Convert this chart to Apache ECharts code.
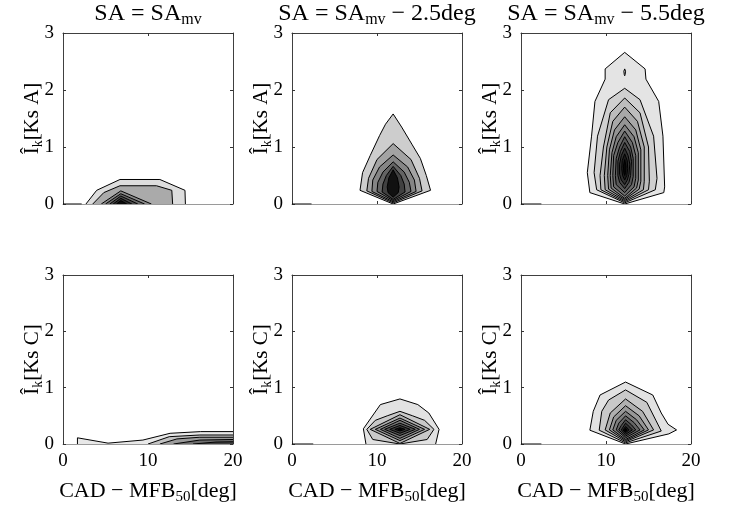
<!DOCTYPE html>
<html>
<head>
<meta charset="utf-8">
<script src="https://cdn.jsdelivr.net/npm/echarts@6/dist/echarts.min.js"></script>
<style>
  html, body { margin: 0; padding: 0; background: #fff; }
  #chart { width: 734px; height: 506px; }
</style>
</head>
<body>
<div id="chart"></div>
<script>
// Filled contour levels of the knock intensity density, outermost level first.
// Every level is a closed outline of [CAD - MFB50 (deg), I_k] vertices.

// Knock sensor A, SA = SA_mv
const A1_levels = [
  [[2.7, 0], [3.96, 0.24], [6.7, 0.43], [11.4, 0.43], [14.35, 0.24], [14.4, 0]],
  [[3.5, 0], [4.8, 0.2], [6.7, 0.32], [11.0, 0.32], [12.8, 0.24], [12.9, 0]],
  [[4.5, 0], [6.8, 0.23], [10.4, 0]],
  [[5.0, 0], [6.8, 0.18], [9.6, 0]],
  [[5.5, 0], [6.8, 0.14], [8.8, 0]],
  [[5.9, 0], [6.8, 0.10], [8.1, 0]],
  [[6.3, 0], [6.8, 0.06], [7.5, 0]]
];
const A1_colors = ['#dddddd', '#aaaaaa', '#8a8a8a', '#6a6a6a', '#4a4a4a', '#2a2a2a', '#0a0a0a'];
const A1_base = [[0, 0], [2.2, 0]];

// Knock sensor A, SA = SA_mv - 2.5deg
const A2_levels = [
  [[11.9, 1.58], [12.9, 1.35], [14.1, 1.05], [15.1, 0.8], [15.8, 0.5], [16.3, 0.24], [11.9, 0.0],
   [8.0, 0.24], [8.3, 0.55], [9.2, 0.85], [10.3, 1.2], [11.0, 1.4]],
  [[11.9, 1.06], [14.0, 0.78], [15.0, 0.45], [15.3, 0.23], [11.9, 0.02], [8.8, 0.23], [9.0, 0.45], [10.0, 0.78]],
  [[11.9, 0.86], [13.6, 0.65], [14.4, 0.42], [14.6, 0.22], [11.9, 0.04], [9.4, 0.22], [9.5, 0.42], [10.3, 0.65]],
  [[11.9, 0.74], [13.2, 0.56], [13.8, 0.38], [14.0, 0.22], [11.9, 0.06], [10.0, 0.22], [10.1, 0.38], [10.7, 0.56]],
  [[11.9, 0.66], [12.8, 0.5], [13.2, 0.35], [13.3, 0.21], [11.9, 0.08], [10.6, 0.21], [10.7, 0.35], [11.1, 0.5]],
  [[11.9, 0.6], [12.4, 0.46], [12.6, 0.3], [12.5, 0.2], [11.9, 0.12], [11.3, 0.2], [11.2, 0.3], [11.4, 0.46]]
];
const A2_colors = ['#cdcdcd', '#a3a3a3', '#858585', '#646464', '#414141', '#111111'];
const A2_base = [[0, 0], [2.3, 0]];

// Knock sensor A, SA = SA_mv - 5.5deg
const A3_levels = [
  [[12.2, 2.66], [14.6, 2.37], [14.7, 2.19], [16.2, 1.8], [16.7, 1.19], [16.9, 0.3], [16.8, 0.2], [12.2, 0.0],
   [8.1, 0.2], [7.8, 0.55], [8.3, 1.19], [8.7, 1.8], [9.9, 2.19], [9.9, 2.37]],
  [[12.2, 2.37], [12.3, 2.33], [12.25, 2.27], [12.2, 2.25], [12.15, 2.27], [12.1, 2.33]],
  [[12.2, 2.03], [14.0, 1.83], [15.6, 1.19], [16.0, 0.45], [15.8, 0.25], [12.2, 0.02], [8.9, 0.25], [8.6, 0.55], [9.0, 1.19], [10.3, 1.83]],
  [[12.2, 1.86], [14.0, 1.6], [15.0, 1.0], [15.1, 0.4], [15.0, 0.25], [12.2, 0.04], [9.4, 0.25], [9.3, 0.5], [9.7, 1.0], [10.5, 1.6]],
  [[12.2, 1.70], [13.7, 1.45], [14.5, 1.0], [14.5, 0.4], [14.4, 0.25], [12.2, 0.06], [9.9, 0.25], [9.8, 0.5], [10.1, 1.0], [10.8, 1.45]],
  [[12.2, 1.53], [13.5, 1.3], [14.1, 0.95], [14.1, 0.4], [13.9, 0.26], [12.2, 0.08], [10.3, 0.26], [10.2, 0.5], [10.4, 0.95], [11.0, 1.3]],
  [[12.2, 1.39], [13.3, 1.18], [13.8, 0.9], [13.8, 0.42], [13.6, 0.28], [12.2, 0.10], [10.6, 0.28], [10.5, 0.5], [10.7, 0.9], [11.2, 1.18]],
  [[12.2, 1.28], [13.1, 1.08], [13.5, 0.85], [13.5, 0.45], [13.3, 0.3], [12.2, 0.14], [10.9, 0.3], [10.8, 0.5], [10.9, 0.85], [11.4, 1.08]],
  [[12.2, 1.18], [12.9, 1.0], [13.2, 0.8], [13.2, 0.48], [13.0, 0.34], [12.2, 0.2], [11.2, 0.34], [11.1, 0.5], [11.2, 0.8], [11.6, 1.0]],
  [[12.2, 1.08], [12.8, 0.92], [13.0, 0.75], [12.9, 0.5], [12.7, 0.38], [12.2, 0.27], [11.6, 0.38], [11.4, 0.5], [11.4, 0.75], [11.7, 0.92]],
  [[12.2, 0.98], [12.6, 0.85], [12.8, 0.7], [12.7, 0.52], [12.5, 0.42], [12.2, 0.34], [11.8, 0.42], [11.6, 0.52], [11.6, 0.7], [11.8, 0.85]],
  [[12.2, 0.88], [12.5, 0.76], [12.55, 0.62], [12.45, 0.5], [12.2, 0.42], [11.95, 0.5], [11.85, 0.62], [11.9, 0.76]],
  [[12.2, 0.78], [12.35, 0.66], [12.3, 0.55], [12.2, 0.5], [12.1, 0.55], [12.05, 0.66]]
];
const A3_colors = ['#e4e4e4', '#d0d0d0', '#d0d0d0', '#bcbcbc', '#a8a8a8', '#949494', '#808080', '#6c6c6c',
                   '#585858', '#444444', '#303030', '#1c1c1c', '#080808'];
const A3_base = [[0, 0], [2.4, 0]];

// Knock sensor C, SA = SA_mv
const C1_levels = [
  [[1.7, 0], [1.7, 0.11], [5.3, 0.015], [9.4, 0.07], [12.6, 0.19], [16.2, 0.22], [20, 0.22], [20, 0]],
  [[10.0, 0], [12.5, 0.13], [16.1, 0.16], [20, 0.16], [20, 0]],
  [[11.4, 0], [13.4, 0.09], [16.1, 0.12], [20, 0.12], [20, 0]],
  [[13.0, 0], [16.1, 0.07], [20, 0.08], [20, 0]],
  [[15.3, 0], [18.0, 0.035], [20, 0.04], [20, 0]]
];
const C1_colors = ['#e8e8e8', '#c2c2c2', '#9a9a9a', '#6e6e6e', '#404040'];
const C1_base = [];

// Knock sensor C, SA = SA_mv - 2.5deg
const C2_levels = [
  [[12.7, 0.8], [10.4, 0.7], [9.7, 0.55], [8.4, 0.27], [8.7, 0], [16.9, 0], [17.3, 0.26], [16.1, 0.55], [14.8, 0.7]],
  [[12.7, 0.58], [14.2, 0.5], [15.6, 0.42], [16.7, 0.26], [15.9, 0.08], [12.7, 0.0], [9.5, 0.08], [8.8, 0.26], [9.8, 0.42], [11.2, 0.5]],
  [[12.7, 0.52], [16.2, 0.26], [12.7, 0.01], [9.2, 0.26]],
  [[12.7, 0.46], [15.6, 0.26], [12.7, 0.06], [9.8, 0.26]],
  [[12.7, 0.42], [15.0, 0.26], [12.7, 0.10], [10.4, 0.26]],
  [[12.7, 0.37], [14.5, 0.26], [12.7, 0.15], [10.9, 0.26]],
  [[12.7, 0.33], [13.9, 0.26], [12.7, 0.19], [11.5, 0.26]],
  [[12.7, 0.29], [13.3, 0.26], [12.7, 0.23], [12.1, 0.26]],
  [[12.7, 0.275], [12.9, 0.26], [12.7, 0.245], [12.5, 0.26]]
];
const C2_colors = ['#e2e2e2', '#c8c8c8', '#adadad', '#919191', '#757575', '#575757', '#3a3a3a', '#1a1a1a', '#000000'];
const C2_base = [[0, 0], [2.5, 0]];

// Knock sensor C, SA = SA_mv - 5.5deg
const C3_levels = [
  [[12.3, 1.1], [15.5, 0.87], [16.5, 0.55], [17.3, 0.35], [18.3, 0.25], [17.4, 0.18], [12.3, 0.0], [8.1, 0.245], [8.5, 0.58], [9.3, 0.87]],
  [[12.3, 0.96], [14.8, 0.74], [15.9, 0.41], [16.5, 0.23], [12.3, 0.02], [9.2, 0.245], [9.5, 0.58], [10.3, 0.78]],
  [[12.3, 0.8], [14.3, 0.58], [15.6, 0.25], [12.3, 0.04], [9.9, 0.25], [10.5, 0.55]],
  [[12.3, 0.68], [13.9, 0.5], [15.0, 0.25], [12.3, 0.06], [10.4, 0.25], [10.9, 0.48]],
  [[12.3, 0.58], [13.6, 0.43], [14.5, 0.25], [12.3, 0.08], [10.8, 0.25], [11.2, 0.42]],
  [[12.3, 0.5], [13.3, 0.38], [14.0, 0.25], [12.3, 0.11], [11.2, 0.25], [11.5, 0.37]],
  [[12.3, 0.43], [13.0, 0.34], [13.5, 0.25], [12.3, 0.14], [11.5, 0.25], [11.8, 0.33]],
  [[12.3, 0.37], [12.8, 0.3], [13.1, 0.25], [12.3, 0.17], [11.8, 0.25]],
  [[12.3, 0.31], [12.6, 0.27], [12.7, 0.25], [12.3, 0.2], [12.0, 0.25]],
  [[12.3, 0.28], [12.45, 0.25], [12.3, 0.22], [12.15, 0.25]]
];
const C3_colors = ['#e2e2e2', '#c9c9c9', '#b0b0b0', '#979797', '#7e7e7e', '#656565', '#4c4c4c', '#333333', '#1a1a1a', '#000000'];
const C3_base = [[0, 0], [2.4, 0]];

// Axis ranges and ticks
const xTicks = [0, 10, 20];
const yTicks = [0, 1, 2, 3];
const titles = ['SA = SA{sub|mv}', 'SA = SA{sub|mv} − 2.5deg', 'SA = SA{sub|mv} − 5.5deg'];
const sensors = ['Ks A', 'Ks C'];

const FONT = 'Liberation Serif';
const X_MIN = xTicks[0], X_MAX = xTicks[xTicks.length - 1];
const Y_MIN = yTicks[0], Y_MAX = yTicks[yTicks.length - 1];

const panels = [
  { levels: A1_levels, colors: A1_colors, base: A1_base, col: 0, row: 0 },
  { levels: A2_levels, colors: A2_colors, base: A2_base, col: 1, row: 0 },
  { levels: A3_levels, colors: A3_colors, base: A3_base, col: 2, row: 0 },
  { levels: C1_levels, colors: C1_colors, base: C1_base, col: 0, row: 1 },
  { levels: C2_levels, colors: C2_colors, base: C2_base, col: 1, row: 1 },
  { levels: C3_levels, colors: C3_colors, base: C3_base, col: 2, row: 1 }
];

const colLeft = [63, 292, 521];
const rowTop = [33, 275];
const rowHeight = [171, 172];
const PANEL_W = 170;

const subStyle = (size) => ({ fontFamily: FONT, fontSize: size, color: '#000', verticalAlign: 'bottom', lineHeight: size });

// Draws one contour level: the filled outline, then its edges except those lying on the axes box.
function contourRenderer(levels, colors) {
  const onBox = (a, b) =>
    (a[1] === Y_MIN && b[1] === Y_MIN) || (a[1] === Y_MAX && b[1] === Y_MAX) ||
    (a[0] === X_MIN && b[0] === X_MIN) || (a[0] === X_MAX && b[0] === X_MAX);
  return function (params, api) {
    const pts = levels[params.dataIndex];
    const px = pts.map(p => api.coord(p));
    const n = pts.length;
    const children = [{
      type: 'polygon',
      shape: { points: px },
      style: { fill: colors[params.dataIndex], stroke: null }
    }];
    let start = -1;
    for (let i = 0; i < n; i++) {
      if (onBox(pts[(i - 1 + n) % n], pts[i])) { start = i; break; }
    }
    const lineStyle = { fill: null, stroke: '#000', lineWidth: 1 };
    if (start < 0) {
      children.push({ type: 'polygon', shape: { points: px }, style: lineStyle });
    } else {
      let run = [];
      for (let k = 0; k < n; k++) {
        const a = (start + k) % n, b = (start + k + 1) % n;
        if (onBox(pts[a], pts[b])) {
          if (run.length > 1) children.push({ type: 'polyline', shape: { points: run }, style: lineStyle });
          run = [];
        } else {
          if (!run.length) run.push(px[a]);
          run.push(px[b]);
        }
      }
      if (run.length > 1) children.push({ type: 'polyline', shape: { points: run }, style: lineStyle });
    }
    return { type: 'group', children };
  };
}

const grid = [], xAxis = [], yAxis = [], series = [];
panels.forEach((p, i) => {
  grid.push({ left: colLeft[p.col], top: rowTop[p.row], width: PANEL_W, height: rowHeight[p.row], containLabel: false });
  const tick = { show: true, inside: true, length: 3, lineStyle: { color: '#333', width: 1 } };
  const boxLine = { show: true, onZero: false, lineStyle: { color: '#404040', width: 1 } };
  xAxis.push({
    type: 'value', gridIndex: i, position: 'bottom', min: X_MIN, max: X_MAX, interval: 10,
    axisLine: { show: true, onZero: false, lineStyle: { color: '#9a9a9a', width: 1 } },
    axisTick: tick, splitLine: { show: false },
    axisLabel: { show: p.row === 1, fontFamily: FONT, fontSize: 19, color: '#000', margin: 8 },
    name: p.row === 1 ? 'CAD − MFB{sub|50}[deg]' : '',
    nameLocation: 'middle', nameGap: 34, nameMoveOverlap: false,
    nameTextStyle: { fontFamily: FONT, fontSize: 22, color: '#000', lineHeight: 27, rich: { sub: subStyle(15) } }
  });
  xAxis.push({
    type: 'value', gridIndex: i, position: 'top', min: X_MIN, max: X_MAX, interval: 10,
    axisLine: boxLine, axisTick: tick, splitLine: { show: false }, axisLabel: { show: false }
  });
  yAxis.push({
    type: 'value', gridIndex: i, position: 'left', min: Y_MIN, max: Y_MAX, interval: 1,
    axisLine: boxLine, axisTick: tick, splitLine: { show: false },
    axisLabel: { fontFamily: FONT, fontSize: 19, color: '#000', margin: 9 },
    name: 'Î{sub|k}[' + sensors[p.row] + ']',
    nameLocation: 'middle', nameGap: 18, nameMoveOverlap: false,
    nameTextStyle: { fontFamily: FONT, fontSize: 21, color: '#000', lineHeight: 26, rich: { sub: subStyle(14) } }
  });
  yAxis.push({
    type: 'value', gridIndex: i, position: 'right', min: Y_MIN, max: Y_MAX, interval: 1,
    axisLine: boxLine, axisTick: tick, splitLine: { show: false }, axisLabel: { show: false }
  });
  series.push({
    type: 'custom',
    xAxisIndex: 2 * i, yAxisIndex: 2 * i,
    coordinateSystem: 'cartesian2d',
    clip: true,
    renderItem: contourRenderer(p.levels, p.colors),
    encode: { x: 0, y: 1 },
    data: p.levels.map(l => l[0]),
    silent: true
  });
  if (p.base.length) {
    series.push({
      type: 'line', xAxisIndex: 2 * i, yAxisIndex: 2 * i,
      data: p.base, symbol: 'none', silent: true,
      lineStyle: { color: '#000', width: 1 }
    });
  }
});

const title = titles.map((t, c) => ({
  text: t,
  left: colLeft[c] + PANEL_W / 2,
  top: 0,
  padding: 0,
  textAlign: 'center',
  textStyle: { fontFamily: FONT, fontSize: 24, fontWeight: 'normal', color: '#000', lineHeight: 28, rich: { sub: subStyle(16) } }
}));

const chart = echarts.init(document.getElementById('chart'), null, { renderer: 'canvas' });
chart.setOption({
  backgroundColor: '#fff',
  animation: false,
  title, grid, xAxis, yAxis, series
});
</script>
</body>
</html>
